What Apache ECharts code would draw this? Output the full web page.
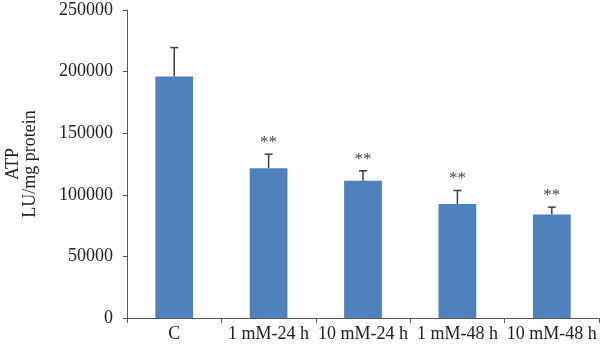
<!DOCTYPE html>
<html>
<head>
<meta charset="utf-8">
<script src="https://cdn.jsdelivr.net/npm/echarts@6/dist/echarts.min.js"></script>
<style>
html,body{margin:0;padding:0;background:#fff;}
#main{width:600px;height:351px;}
</style>
</head>
<body>
<div id="main"></div>
<script>
var categories = ['C', '1 mM-24 h', '10 mM-24 h', '1 mM-48 h', '10 mM-48 h'];
var means = [196000, 121500, 111500, 92500, 84000];
var errors = [23500, 11500, 8000, 11000, 6000];
var marks = ['', '**', '**', '**', '**'];
var yTicks = [0, 50000, 100000, 150000, 200000, 250000];

var font = 'Liberation Serif';

// error bar data: [index, mean, mean+err]
var errData = [];
for (var i = 0; i < categories.length; i++) {
	errData.push([i, means[i], means[i] + errors[i]]);
}

var myChart = echarts.init(document.getElementById('main'));
var option = {
	animation: false,
	grid: { left: 127, right: 1, top: 10, bottom: 33, outerBoundsMode: 'none', containLabel: false },
	xAxis: {
		type: 'category',
		data: categories,
		axisLine: { lineStyle: { color: '#595959', width: 1 } },
		axisTick: { show: true, length: 5, lineStyle: { color: '#595959' } },
		axisLabel: { color: '#222', fontFamily: font, fontSize: 18, margin: 7, interval: 0 }
	},
	yAxis: {
		type: 'value',
		min: yTicks[0],
		max: yTicks[yTicks.length - 1],
		interval: 50000,
		name: 'ATP\nLU/mg protein',
		nameLocation: 'middle',
		nameRotate: 90,
		nameGap: 88,
		nameTextStyle: { color: '#222', fontFamily: font, fontSize: 18, lineHeight: 17 },
		axisLine: { show: true, lineStyle: { color: '#595959', width: 1 } },
		axisTick: { show: true, length: 4, lineStyle: { color: '#595959' } },
		splitLine: { show: false },
		axisLabel: {
			color: '#222', fontFamily: font, fontSize: 18, margin: 14,
			formatter: function (v) { return String(v); }
		}
	},
	series: [
		{
			type: 'bar',
			data: means,
			barWidth: '40%',
			itemStyle: { color: '#4F81BD' }
		},
		{
			type: 'custom',
			data: errData,
			z: 10,
			renderItem: function (params, api) {
				var idx = api.value(0);
				var lo = api.coord([idx, api.value(1)]);
				var hi = api.coord([idx, api.value(2)]);
				var half = 4;
				var children = [
					{ type: 'line', shape: { x1: lo[0], y1: lo[1], x2: hi[0], y2: hi[1] }, style: { stroke: '#404040', lineWidth: 1.5 } },
					{ type: 'line', shape: { x1: hi[0] - half, y1: hi[1], x2: hi[0] + half, y2: hi[1] }, style: { stroke: '#404040', lineWidth: 1.5 } }
				];
				if (marks[idx]) {
					children.push({
						type: 'text',
						style: {
							text: marks[idx], x: hi[0], y: hi[1] - 3,
							align: 'center', verticalAlign: 'bottom',
							fill: '#444', font: '17px "' + font + '"'
						}
					});
				}
				return { type: 'group', children: children };
			}
		}
	]
};
myChart.setOption(option);
</script>
</body>
</html>
